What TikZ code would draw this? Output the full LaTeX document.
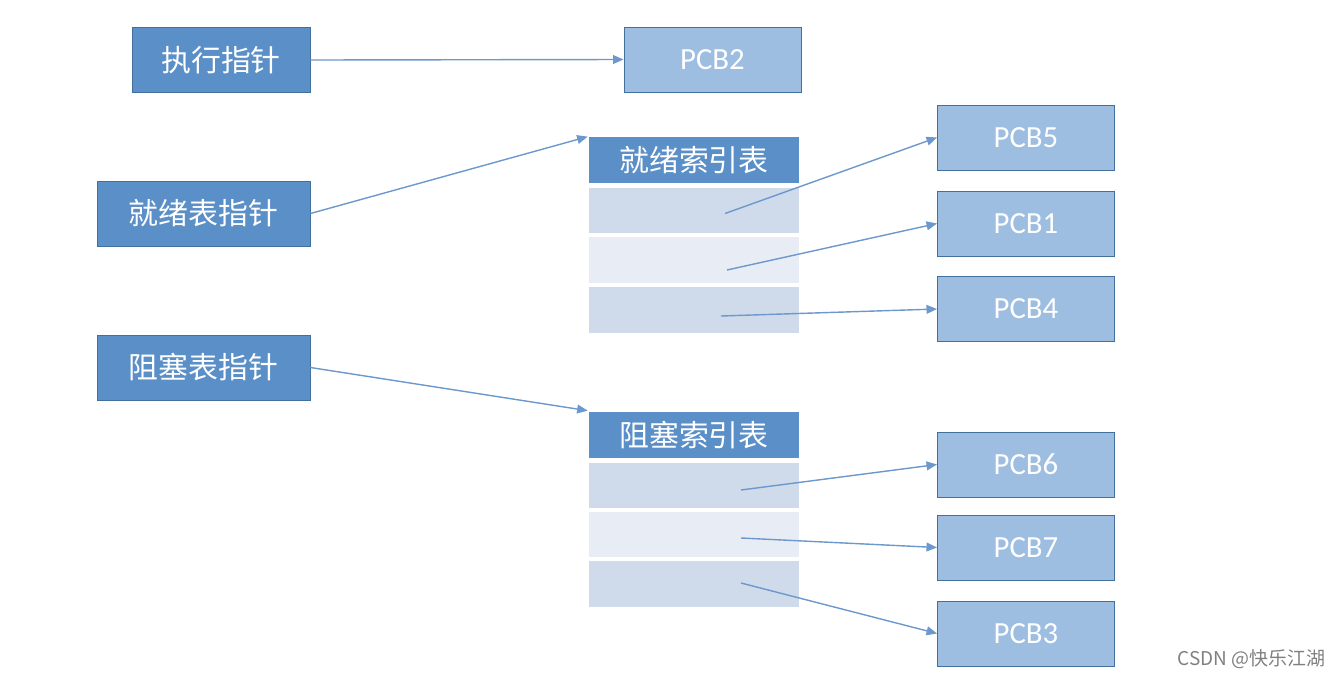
\documentclass[tikz,border=0pt]{standalone}
\usepackage{fontspec}
\setmainfont{Carlito}
\newfontfamily\cjk{Noto Sans CJK SC}
\usetikzlibrary{calc,positioning,arrows.meta}
\definecolor{ptrblue}{RGB}{91,143,199}
\definecolor{pcbblue}{RGB}{157,189,225}
\definecolor{boxedge}{RGB}{65,113,156}
\definecolor{rowdark}{RGB}{207,219,235}
\definecolor{rowlight}{RGB}{232,237,245}
\definecolor{linkblue}{RGB}{108,152,206}

\begin{document}
\begin{tikzpicture}[
  x=0.02cm, y=-0.02cm,
  ptr/.style={draw=boxedge,line width=0.5pt,fill=ptrblue,text=white,inner sep=0pt,
    minimum height=1.3cm,font=\cjk\fontsize{17}{20}\selectfont},
  pcb/.style={draw=boxedge,line width=0.5pt,fill=pcbblue,text=white,inner sep=0pt,
    minimum width=3.54cm,minimum height=1.3cm,font=\fontsize{17.5}{20}\selectfont},
  thead/.style={fill=ptrblue,text=white,inner sep=0pt,minimum width=4.2cm,
    minimum height=0.92cm,font=\cjk\fontsize{17}{20}\selectfont},
  trow/.style={inner sep=0pt,minimum width=4.2cm,minimum height=0.91cm},
  link/.style={draw=linkblue,line width=0.8pt,-{Triangle[length=6pt,width=5pt]}},
  ]
  \useasboundingbox (0,0) rectangle (1340,677);

  % pointers
  \node (exec) [ptr,minimum width=3.56cm] at (221,60) {执行指针};
  \node (readyptr) [ptr,minimum width=4.26cm] at (203.5,213.5) {就绪表指针};
  \node (blockptr) [ptr,minimum width=4.26cm] at (203.5,367.5) {阻塞表指针};

  % index tables
  \node (readyhead) [thead] at (694,160) {就绪索引表};
  \foreach \i/\y/\c in {1/210.5/rowdark,2/260/rowlight,3/310/rowdark}
    \node (ready_\i) [trow,fill=\c] at (694,\y) {};
  \node (blockhead) [thead] at (694,435) {阻塞索引表};
  \foreach \i/\y/\c in {1/485.5/rowdark,2/534.5/rowlight,3/584/rowdark}
    \node (block_\i) [trow,fill=\c] at (694,\y) {};

  % PCBs
  \node (pcb2) [pcb] at (712.5,59.5) {PCB2};
  \node (pcb5) [pcb] at (1026,137.5) {PCB5};
  \node (pcb1) [pcb] at (1026,223.5) {PCB1};
  \node (pcb4) [pcb] at (1026,309) {PCB4};
  \node (pcb6) [pcb] at (1026,464.5) {PCB6};
  \node (pcb7) [pcb] at (1026,547.5) {PCB7};
  \node (pcb3) [pcb] at (1026,633.5) {PCB3};

  \draw[link] (exec.east) -- (pcb2.west);
  \draw[link] (readyptr.east) -- ($(readyhead.north west)+(-1,0)$);
  \draw[link] (blockptr.east) -- ($(blockhead.north west)+(-1,-1)$);

  \draw[link] ($(ready_1.center)+(31,3)$) -- (pcb5.west);
  \draw[link] ($(ready_2.center)+(33,10)$) -- (pcb1.west);
  \draw[link] ($(ready_3.center)+(27,6)$) -- (pcb4.west);
  \draw[link] ($(block_1.center)+(47,4.5)$) -- (pcb6.west);
  \draw[link] ($(block_2.center)+(47,3.5)$) -- (pcb7.west);
  \draw[link] ($(block_3.center)+(47,-1)$) -- (pcb3.west);

  \node (mark) [anchor=east,text=gray,inner sep=0pt,font=\cjk\fontsize{10.8}{12}\selectfont]
    at (1326,659) {CSDN @快乐江湖};
\end{tikzpicture}
\end{document}
